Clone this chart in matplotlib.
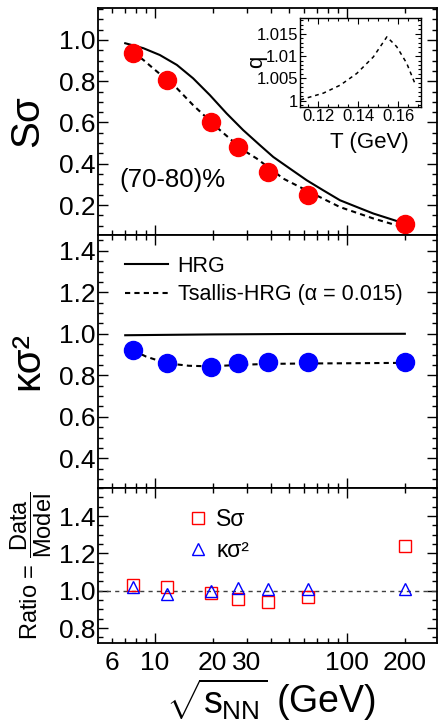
import matplotlib
matplotlib.use("Agg")
import matplotlib.pyplot as plt
from matplotlib.ticker import FixedLocator, MultipleLocator, FuncFormatter

plt.rcParams['font.family'] = ['Liberation Sans', 'DejaVu Sans']
plt.rcParams['mathtext.fontset'] = 'custom'
plt.rcParams['mathtext.rm'] = 'Liberation Sans'
plt.rcParams['mathtext.it'] = 'Liberation Sans'
plt.rcParams['mathtext.bf'] = 'Liberation Sans:bold'

# measured points (70-80%)
sqrt_s = [7.7, 11.5, 19.6, 27, 39, 62.4, 200]
s_sigma = [0.935, 0.806, 0.603, 0.482, 0.36, 0.248, 0.107]
kappa_sigma2 = [0.922, 0.858, 0.842, 0.861, 0.863, 0.866, 0.866]
ratio_s = [1.031, 1.02, 0.987, 0.954, 0.94, 0.964, 1.242]
ratio_k = [1.019, 0.984, 1.0, 1.012, 1.009, 1.009, 1.007]

# model curves
hrg_x = [7, 8.7, 10.6, 13, 15.8, 19.3, 23.6, 28.8, 35.2, 41.3, 50, 61.7, 75, 92, 115, 137, 165, 200]
hrg_s = [0.984, 0.96, 0.927, 0.879, 0.814, 0.733, 0.644, 0.563, 0.49, 0.433, 0.379, 0.32,
         0.272, 0.223, 0.187, 0.159, 0.135, 0.11]
ts_x = [7.7, 8.7, 10, 13, 15.8, 21.8, 28.8, 33.8, 41.3, 46.6, 62.4, 92, 137, 200]
ts_s = [0.94, 0.903, 0.855, 0.766, 0.684, 0.563, 0.466, 0.426, 0.365, 0.328, 0.268, 0.19,
        0.135, 0.09]

hrgk_x = [7, 20, 50, 200]
hrgk = [0.993, 0.997, 0.999, 1.0]
tsk_x = [7.7, 9, 11.5, 15, 19.6, 27, 39, 62.4, 100, 200]
tsk = [0.92, 0.89, 0.858, 0.846, 0.843, 0.85, 0.855, 0.857, 0.858, 0.86]

# inset q(T)
T = [0.111, 0.1225, 0.131, 0.1392, 0.1475, 0.1543, 0.1592, 0.1642, 0.1683]
q = [1.0002, 1.0017, 1.0035, 1.0061, 1.0098, 1.0143, 1.0121, 1.0084, 1.0039]

fig = plt.figure(figsize=(4.39, 7.23), dpi=100)
L, W = 0.2232, 0.7722
ax1 = fig.add_axes([L, 0.675, W, 0.314])
ax2 = fig.add_axes([L, 0.325, W, 0.35], sharex=ax1)
ax3 = fig.add_axes([L, 0.1107, W, 0.2143], sharex=ax1)

dash = (0, (2.5, 2))
for ax in (ax1, ax2, ax3):
    ax.set_xscale('log')
    ax.tick_params(which='both', direction='in', top=True, right=True, labelsize=19)
    ax.tick_params(which='major', length=7, width=1)
    ax.tick_params(which='minor', length=3.5, width=1)
    ax.tick_params(axis='y', pad=2)
    ax.yaxis.set_major_locator(MultipleLocator(0.2))
    ax.yaxis.set_minor_locator(MultipleLocator(0.05))
    ax.yaxis.set_major_formatter(FuncFormatter(lambda v, p: '%.1f' % v))
    for sp in ax.spines.values():
        sp.set_linewidth(1.3)

ax1.set_xlim(5.05, 294)
ax1.xaxis.set_major_locator(FixedLocator([10, 100]))
ax1.xaxis.set_minor_locator(FixedLocator([6, 7, 8, 9, 20, 30, 40, 50, 60, 70, 80, 90, 200]))
ax1.xaxis.set_major_formatter(FuncFormatter(lambda v, p: '%g' % v))
ax1.xaxis.set_minor_formatter(FuncFormatter(lambda v, p: '%g' % v if v in (6, 20, 30, 200) else ''))
ax1.tick_params(labelbottom=False)
ax2.tick_params(labelbottom=False)
ax3.tick_params(axis='x', which='both', pad=6)

# top panel
ax1.plot(hrg_x, hrg_s, color='black', lw=1.5)
ax1.plot(ts_x, ts_s, color='black', lw=1.5, linestyle=dash)
ax1.plot(sqrt_s, s_sigma, 'o', color='red', ms=13, zorder=5)
ax1.set_ylim(0.055, 1.155)
ax1.set_ylabel('Sσ', fontsize=29, va='center')
ax1.yaxis.set_label_coords(-0.208, 0.5)
ax1.text(0.22, 0.242, '(70-80)%', transform=ax1.transAxes, fontsize=18.5,
         ha='center', va='center')

# middle panel
ax2.plot(hrgk_x, hrgk, color='black', lw=1.5, label='HRG')
ax2.plot(tsk_x, tsk, color='black', lw=1.5, linestyle=dash,
         label='Tsallis-HRG (α = 0.015)')
ax2.plot(sqrt_s, kappa_sigma2, 'o', color='blue', ms=13, zorder=5)
ax2.set_ylim(0.257, 1.476)
ax2.set_ylabel('κσ²', fontsize=29, va='center')
ax2.yaxis.set_label_coords(-0.208, 0.5)
ax2.legend(loc='upper left', bbox_to_anchor=(0.0796, 0.918), frameon=False,
           fontsize=15.5, handlelength=2.0, handletextpad=0.45, borderpad=0,
           borderaxespad=0, labelspacing=0.35)

# bottom panel
ax3.axhline(1.0, color='0.25', lw=1, linestyle=(0, (3, 3)))
ax3.plot(sqrt_s, ratio_s, 's', mfc='none', mec='red', mew=1, ms=9, label='Sσ')
ax3.plot(sqrt_s, ratio_k, '^', mfc='none', mec='blue', mew=1, ms=9, label='κσ²')
ax3.set_ylim(0.72, 1.55)
ax3.set_ylabel(r'Ratio = $\dfrac{\mathrm{Data}}{\mathrm{Model}}$', fontsize=17, va='center')
ax3.yaxis.set_label_coords(-0.196, 0.5)
ax3.legend(loc='upper left', bbox_to_anchor=(0.268, 0.87), frameon=False,
           fontsize=16.5, handlelength=0.8, handletextpad=0.4, borderpad=0,
           borderaxespad=0, labelspacing=0.35)
ax3.set_xlabel(r'$\sqrt{s_{\mathrm{NN}}}$ (GeV)', fontsize=27, va='center')
ax3.xaxis.set_label_coords(0.51, -0.368)

# inset
axi = fig.add_axes([0.6834, 0.8524, 0.2748, 0.1223])
axi.plot(T, q, color='black', lw=1.1, linestyle=(0, (2.5, 2.5)))
axi.set_xlim(0.1108, 0.1712)
axi.set_ylim(0.99866, 1.01845)
axi.xaxis.set_major_locator(FixedLocator([0.12, 0.14, 0.16]))
axi.xaxis.set_minor_locator(MultipleLocator(0.005))
axi.yaxis.set_major_locator(FixedLocator([1.0, 1.005, 1.01, 1.015]))
axi.yaxis.set_minor_locator(MultipleLocator(0.001))
axi.xaxis.set_major_formatter(FuncFormatter(lambda v, p: '%g' % round(v, 3)))
axi.yaxis.set_major_formatter(FuncFormatter(lambda v, p: '%g' % round(v, 4)))
axi.tick_params(which='both', direction='in', top=True, right=True, labelsize=12, pad=1.5)
axi.tick_params(which='major', length=4, width=0.8)
axi.tick_params(which='minor', length=2, width=0.8)
for sp in axi.spines.values():
    sp.set_linewidth(1)
axi.set_xlabel('T (GeV)', fontsize=16, va='center')
axi.xaxis.set_label_coords(0.572, -0.40)
axi.set_ylabel('q', fontsize=16, va='center')
axi.yaxis.set_label_coords(-0.36, 0.509)

fig.savefig('out.png', dpi=100)
